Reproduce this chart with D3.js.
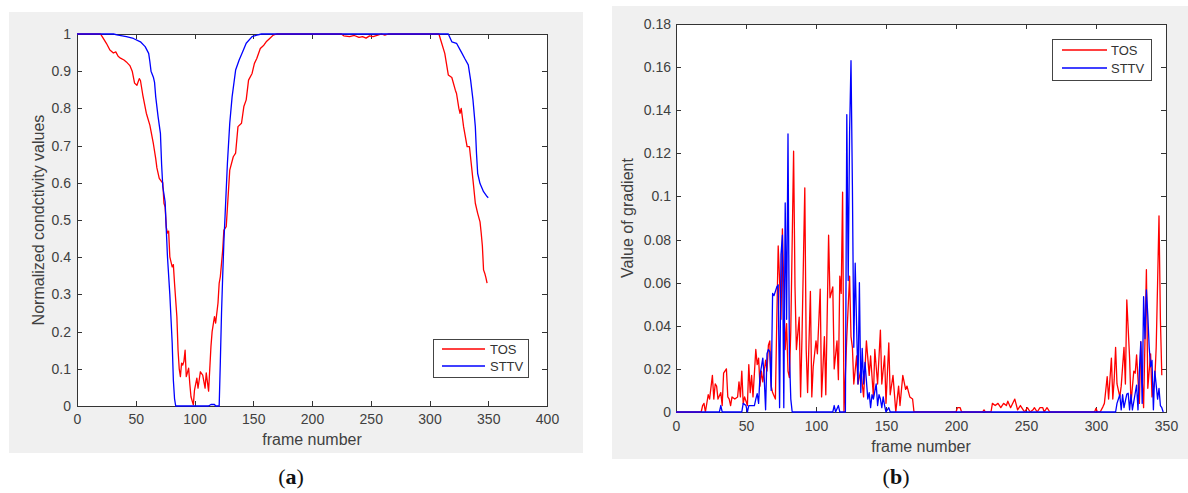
<!DOCTYPE html>
<html>
<head>
<meta charset="utf-8">
<script src="https://cdn.jsdelivr.net/npm/d3@7"></script>
<style>
  html, body { margin: 0; padding: 0; background: #fff; }
  svg { display: block; font-family: "Liberation Sans", Arial, sans-serif; }
  .axis path, .axis line { stroke: #333; stroke-width: 1; shape-rendering: crispEdges; }
  .axis text { fill: #404040; font-size: 14px; font-family: "Liberation Sans", Arial, sans-serif; }
  .label { fill: #404040; font-size: 16px; }
  .legend text { fill: #333; font-size: 13px; }
  .caption { font-family: "Liberation Serif", "Times New Roman", serif; font-size: 22px; fill: #111; }
</style>
</head>
<body>
<svg id="chart" width="1188" height="493"></svg>
<script>
// series names / colours
const seriesNames = ["TOS", "STTV"];
const seriesColors = ["#ff0000", "#0000ff"];

// (a) normalized conductivity, [frame, value]
const tosNorm = [
  [0,1],[20,1],[22,0.99],[25,0.975],[28,0.957],[31,0.949],[33,0.952],[35,0.94],[37,0.935],[40,0.93],
  [42,0.925],[45,0.915],[47,0.9],[49,0.868],[51,0.862],[53,0.88],[54,0.875],[56,0.836],[59,0.787],
  [62,0.755],[65,0.705],[67,0.665],[68,0.64],[70,0.612],[72,0.603],[73,0.6],[74,0.545],[75,0.535],
  [76,0.48],[77,0.465],[78,0.47],[79,0.401],[81,0.374],[82,0.38],[83,0.33],[85,0.24],[86,0.15],
  [87,0.1],[88,0.079],[89,0.115],[90,0.11],[91,0.12],[92,0.15],[93,0.079],[94,0.09],[95,0.102],
  [96,0.06],[97,0.025],[99,0.003],[100,0.043],[102,0.075],[103,0.048],[105,0.092],[107,0.083],
  [109,0.048],[110,0.089],[112,0.04],[114,0.16],[115,0.2],[117,0.24],[118,0.223],[120,0.277],
  [121,0.33],[122,0.348],[124,0.419],[125,0.473],[127,0.482],[130,0.634],[133,0.67],[135,0.68],
  [137,0.751],[140,0.76],[142,0.805],[144,0.823],[146,0.876],[149,0.894],[151,0.921],[153,0.934],
  [156,0.961],[159,0.97],[161,0.979],[164,0.988],[167,0.997],[170,1],[225,1],[227,0.995],[232,0.993],
  [236,0.996],[240,0.991],[243,0.993],[246,0.989],[249,0.995],[252,0.993],[256,0.997],[259,1],
  [262,0.997],[265,1],[308,1],[310,0.979],[313,0.948],[316,0.89],[319,0.883],[322,0.849],[323,0.84],
  [325,0.8],[326,0.787],[327,0.8],[329,0.751],[332,0.697],[334,0.697],[337,0.608],[339,0.545],
  [341,0.518],[343,0.495],[344,0.465],[345,0.43],[346,0.366],[347,0.357],[348,0.345],[349,0.33]
];
const sttvNorm = [
  [0,1],[31,1],[35,0.997],[42,0.993],[48,0.988],[54,0.979],[58,0.966],[61,0.948],[62,0.926],
  [63,0.9],[65,0.884],[66,0.87],[67,0.831],[69,0.778],[71,0.733],[72,0.65],[73,0.59],[75,0.549],
  [76,0.473],[77,0.401],[79,0.3],[81,0.17],[82,0.07],[83,0.02],[84,0],[112,0],[114,0.004],
  [117,0.004],[118,0],[121,0],[122,0.12],[123,0.25],[124,0.35],[125,0.44],[126,0.51],[128,0.652],
  [130,0.76],[132,0.831],[135,0.903],[138,0.93],[141,0.952],[144,0.975],[149,0.993],[153,0.997],
  [157,1],[316,1],[319,0.979],[323,0.975],[327,0.952],[330,0.934],[333,0.917],[335,0.876],
  [337,0.823],[339,0.751],[340,0.679],[341,0.625],[343,0.598],[346,0.576],[349,0.563],[350,0.56]
];

// (b) gradient values, [frame, value]
const tosGrad = [
  [0,0],[18,0],[19,0.003],[20,0.004],[21,0],[23,0.008],[24,0.006],[26,0.017],[27,0.006],[28,0.013],
  [29,0.012],[30,0.006],[32,0.009],[33,0.003],[34,0.018],[36,0.02],[37,0.007],[38,0.006],[39,0.003],
  [40,0.007],[42,0.006],[44,0.007],[45,0.014],[46,0.007],[47,0.019],[48,0.004],[49,0.007],[51,0.003],
  [52,0.022],[53,0.009],[54,0.017],[55,0.007],[57,0.029],[58,0.022],[59,0.025],[60,0.012],[61,0.019],
  [62,0.014],[64,0.024],[65,0.019],[66,0.031],[67,0.033],[68,0.012],[69,0.009],[71,0.006],[72,0.043],
  [73,0.077],[74,0.061],[75,0.043],[76,0.085],[77,0.058],[78,0.029],[79,0.041],[80,0.019],[81,0.016],
  [82,0.038],[84,0.121],[85,0.058],[86,0.029],[88,0.044],[89,0.007],[90,0.035],[92,0.104],[93,0.029],
  [94,0.009],[96,0.056],[97,0.007],[98,0.021],[100,0.033],[101,0.027],[103,0.057],[104,0.007],
  [106,0.035],[107,0.008],[109,0.082],[110,0.053],[112,0.058],[113,0.02],[115,0.033],[116,0.015],
  [117,0.063],[118,0.055],[119,0.102],[120,0],[122,0.035],[124,0.063],[125,0.035],[126,0.03],
  [127,0.013],[129,0.026],[130,0.013],[132,0.0195],[134,0.007],[136,0.033],[138,0.017],[139,0.026],
  [141,0.007],[142,0.029],[144,0.013],[146,0.038],[147,0.013],[149,0.026],[150,0.004],[152,0.032],
  [153,0.008],[155,0.017],[157,0],[159,0.012],[160,0.003],[162,0.017],[164,0.0105],[165,0.012],
  [167,0.007],[169,0.006],[170,0],[200,0],[201,0.002],[203,0.002],[204,0],[219,0],[220,0.001],
  [221,0],[225,0],[226,0.004],[228,0.003],[230,0.004],[232,0.002],[234,0.004],[236,0.003],
  [237,0.005],[239,0.002],[242,0.006],[244,0.001],[246,0.003],[248,0.001],[249,0],[251,0.002],
  [253,0],[255,0.001],[256,0.002],[258,0],[260,0.002],[262,0.002],[263,0],[265,0.002],[267,0],
  [299,0],[300,0.0017],[301,0],[303,0],[305,0.0025],[306,0.004],[308,0.0164],[309,0.006],[311,0.025],
  [312,0.006],[313,0.015],[314,0.03],[315,0.013],[317,0.007],[318,0.012],[320,0.03],[321,0.013],
  [322,0.052],[324,0.025],[325,0.004],[327,0.019],[328,0.018],[329,0.0265],[331,0.004],[332,0.0326],
  [333,0.015],[334,0.002],[336,0.066],[337,0.011],[339,0.027],[340,0.007],[342,0.015],[343,0.03],
  [344,0.06],[345,0.091],[346,0.043],[347,0.017]
];
const sttvGrad = [
  [0,0],[31,0],[32,0.003],[33,0],[47,0],[48,0.004],[50,0.003],[51,0],[52,0.003],[56,0.003],
  [57,0.006],[58,0.0085],[59,0.004],[60,0.017],[62,0.025],[63,0.016],[64,0.001],[65,0.027],
  [66,0.029],[67,0.028],[68,0.01],[69,0.055],[70,0.054],[72,0.058],[73,0.059],[74,0.002],[75,0.073],
  [76,0.082],[77,0.002],[78,0.097],[79,0.043],[80,0.129],[81,0.027],[82,0.006],[83,0],[112,0],
  [113,0.003],[114,0],[116,0.003],[117,0],[121,0],[122,0.138],[123,0.061],[124,0.13],[125,0.163],
  [126,0.105],[127,0.03],[128,0.069],[129,0.04],[130,0.013],[131,0.06],[132,0.009],[133,0.0295],
  [134,0.013],[135,0.023],[137,0.006],[138,0.009],[139,0.002],[140,0.008],[141,0.006],[143,0.013],
  [144,0.003],[145,0.008],[146,0.006],[147,0.002],[148,0.007],[149,0.003],[150,0],[152,0.002],
  [153,0],[314,0],[315,0.004],[317,0.008],[318,0.001],[319,0.008],[320,0.002],[322,0.0083],
  [323,0.0087],[324,0.001],[325,0.008],[326,0.001],[328,0.0087],[329,0.0125],[330,0.001],[331,0.0195],
  [332,0.0326],[333,0.004],[334,0.0535],[335,0.034],[336,0.0566],[337,0.045],[338,0.03],[339,0.021],
  [340,0.024],[341,0.001],[342,0.019],[343,0.0125],[344,0.006],[345,0.011],[346,0.003],[347,0.002],
  [348,0]
];

// tick values / labels
const xTicksA = [0, 50, 100, 150, 200, 250, 300, 350, 400];
const yTicksA = [0, 0.1, 0.2, 0.3, 0.4, 0.5, 0.6, 0.7, 0.8, 0.9, 1];
const yLabelsA = ["0", "0.1", "0.2", "0.3", "0.4", "0.5", "0.6", "0.7", "0.8", "0.9", "1"];
const xTicksB = [0, 50, 100, 150, 200, 250, 300, 350];
const yTicksB = [0, 0.02, 0.04, 0.06, 0.08, 0.1, 0.12, 0.14, 0.16, 0.18];
const yLabelsB = ["0", "0.02", "0.04", "0.06", "0.08", "0.1", "0.12", "0.14", "0.16", "0.18"];

const svg = d3.select("#chart");

function drawPanel(cfg) {
  const g = svg.append("g");
  const p = cfg.plot;

  // grey figure background + white axes area
  g.append("rect")
    .attr("x", cfg.bg[0]).attr("y", cfg.bg[1])
    .attr("width", cfg.bg[2]).attr("height", cfg.bg[3])
    .attr("fill", "#f0f0f0");
  g.append("rect")
    .attr("x", p.x0).attr("y", p.y0)
    .attr("width", p.x1 - p.x0).attr("height", p.y1 - p.y0)
    .attr("fill", "#fff");

  const x = d3.scaleLinear().domain(cfg.xDomain).range([p.x0, p.x1]);
  const y = d3.scaleLinear().domain(cfg.yDomain).range([p.y1, p.y0]);

  // box with inward ticks on all four sides
  g.append("g").attr("class", "axis")
    .attr("transform", `translate(0,${p.y1})`)
    .call(d3.axisBottom(x).tickValues(cfg.xTicks).tickSizeInner(-5).tickSizeOuter(0)
      .tickPadding(cfg.xPad).tickFormat(d3.format("d")));
  g.append("g").attr("class", "axis")
    .attr("transform", `translate(0,${p.y0})`)
    .call(d3.axisTop(x).tickValues(cfg.xTicks).tickSizeInner(-5).tickSizeOuter(0).tickFormat(""));
  g.append("g").attr("class", "axis")
    .attr("transform", `translate(${p.x0},0)`)
    .call(d3.axisLeft(y).tickValues(cfg.yTicks).tickSizeInner(-5).tickSizeOuter(0)
      .tickPadding(cfg.yPad).tickFormat((d, i) => cfg.yLabels[i]));
  g.append("g").attr("class", "axis")
    .attr("transform", `translate(${p.x1},0)`)
    .call(d3.axisRight(y).tickValues(cfg.yTicks).tickSizeInner(-5).tickSizeOuter(0).tickFormat(""));

  // axis titles
  g.append("text").attr("class", "label")
    .attr("x", (p.x0 + p.x1) / 2).attr("y", cfg.xLabelY)
    .attr("text-anchor", "middle").attr("dy", "0.35em")
    .text("frame number");
  g.append("text").attr("class", "label")
    .attr("transform", `translate(${cfg.yLabelX},${(p.y0 + p.y1) / 2}) rotate(-90)`)
    .attr("text-anchor", "middle").attr("dy", "0.35em")
    .text(cfg.yTitle);

  // data lines, clipped to axes area
  svg.append("clipPath").attr("id", cfg.id + "-clip")
    .append("rect")
    .attr("x", p.x0 - 1).attr("y", p.y0 - 1)
    .attr("width", p.x1 - p.x0 + 2).attr("height", p.y1 - p.y0 + 2);

  const line = d3.line().x(d => x(d[0])).y(d => y(d[1]));
  g.append("g").attr("clip-path", `url(#${cfg.id}-clip)`)
    .selectAll("path")
    .data(cfg.series)
    .join("path")
    .attr("d", d => line(d))
    .attr("fill", "none")
    .attr("stroke", (d, i) => seriesColors[i])
    .attr("stroke-width", 1.3)
    .attr("stroke-linejoin", "round");

  // legend
  const lg = g.append("g").attr("class", "legend");
  const L = cfg.legend;
  lg.append("rect")
    .attr("x", L.x).attr("y", L.y).attr("width", L.w).attr("height", L.h)
    .attr("fill", "#fff").attr("stroke", "#444").attr("stroke-width", 1)
    .attr("shape-rendering", "crispEdges");
  seriesNames.forEach((name, i) => {
    const cy = L.rows[i];
    lg.append("line")
      .attr("x1", L.lx0).attr("x2", L.lx1).attr("y1", cy).attr("y2", cy)
      .attr("stroke", seriesColors[i]).attr("stroke-width", 1.3);
    lg.append("text").attr("x", L.tx).attr("y", cy).attr("dy", "0.35em").text(name);
  });

  // sub-figure caption
  const cap = svg.append("text").attr("class", "caption")
    .attr("x", cfg.captionX).attr("y", 484).attr("text-anchor", "middle");
  cap.append("tspan").text("(");
  cap.append("tspan").attr("font-weight", "bold").text(cfg.letter);
  cap.append("tspan").text(")");
}

drawPanel({
  id: "a",
  bg: [9, 12, 574, 441],
  plot: { x0: 77, x1: 547, y0: 34, y1: 406 },
  xDomain: [0, 400], yDomain: [0, 1],
  xTicks: xTicksA, yTicks: yTicksA, yLabels: yLabelsA,
  xPad: 8, yPad: 6,
  xLabelY: 439, yLabelX: 38,
  yTitle: "Normalized condctivity values",
  series: [tosNorm, sttvNorm],
  legend: { x: 433, y: 339, w: 95, h: 38, rows: [349, 366], lx0: 442, lx1: 485, tx: 490 },
  captionX: 291, letter: "a"
});

drawPanel({
  id: "b",
  bg: [612, 6, 576, 453],
  plot: { x0: 676, x1: 1166, y0: 24, y1: 412 },
  xDomain: [0, 350], yDomain: [0, 0.18],
  xTicks: xTicksB, yTicks: yTicksB, yLabels: yLabelsB,
  xPad: 9, yPad: 5,
  xLabelY: 446, yLabelX: 627,
  yTitle: "Value of gradient",
  series: [tosGrad, sttvGrad],
  legend: { x: 1052, y: 39, w: 99, h: 41, rows: [50, 68], lx0: 1062, lx1: 1107, tx: 1111 },
  captionX: 896, letter: "b"
});
</script>
</body>
</html>
